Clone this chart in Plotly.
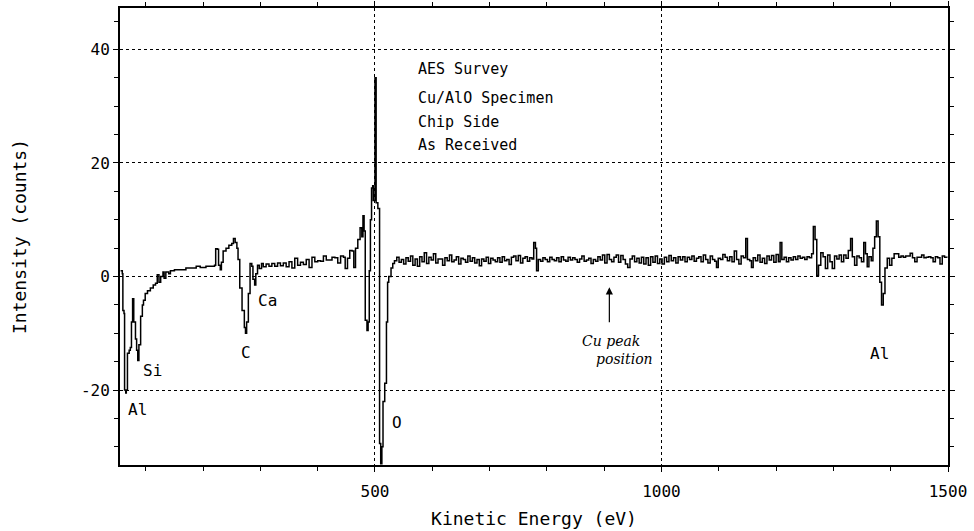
import plotly.graph_objects as go

# ---- data (kinetic energy in eV, intensity in counts) ----
ev_low = [56, 59, 60, 62, 63, 65, 66, 68, 71, 73, 75, 77, 79, 82, 84, 86, 88, 91, 94, 96,
          99, 103, 108, 113, 117, 120, 123, 126, 130, 132, 135, 140, 143, 150, 160, 170,
          180, 188, 195, 205, 215, 220, 222, 225, 227, 230, 232, 235, 240, 245, 250, 253,
          256, 259, 261, 264, 268, 272, 274, 276, 279, 282, 285, 287, 290, 292, 295, 298]
cnt_low = [1.0, 0.5, -6, -6.5, -20, -20.5, -20, -13.5, -13, -12.5, -8, -3.9, -8, -11, -13,
           -14.8, -12, -7, -5, -4.2, -3, -2.5, -2, -1.5, -1.2, 0.3, -1, 0, 0.8, -0.3, 0.8,
           0.5, 1, 1.2, 1.2, 1.5, 1.5, 1.8, 1.6, 1.8, 1.8, 2, 4.9, 4.8, 2, 1.2, 2.5, 4.5, 5,
           5.5, 5.8, 6.7, 6, 5, 3, -2, -6, -9, -10, -8, -3, 2.3, 1.8, -0.5, -1.5, 0.5, 2, 1.4]

ev_mid = [302, 305, 310, 315, 320, 325, 330, 335, 340, 345, 350, 355, 360, 365, 370, 375,
          380, 385, 390, 395, 400, 405, 410, 415, 420, 425, 430, 435, 440, 445, 448, 452,
          456, 460, 463, 466, 470, 474, 477, 479, 481, 483, 486, 488, 490, 492, 494, 496,
          497, 499, 500, 501, 502, 505, 508, 510, 512, 514, 517, 520, 522, 524, 528, 531]
cnt_mid = [2.3, 1.7, 2.2, 1.8, 2.3, 1.8, 2.4, 1.9, 2.4, 1.7, 2.6, 1.5, 3.2, 2.0, 2.5, 2.1,
           3.0, 1.6, 3.4, 2.6, 2.8, 2.7, 3.6, 2.9, 2.9, 3.4, 3.3, 2.4, 3.6, 3.4, 1.4, 3.2,
           4.6, 4.5, 1.6, 5, 6.5, 8.6, 7, 10.7, 8, -7.7, -9.5, -8, 1, 10, 15.6, 16, 13.4,
           13.4, 35, 35, 13, 12, -29.4, -33, -30, -22, -18.8, -8, -1, 0, 1.5, 2.3]

ev_high = [534, 538, 542, 546, 550, 554, 558, 562, 566, 570, 574, 578, 582, 586, 590, 594,
           598, 602, 606, 610, 614, 618, 622, 626, 630, 634, 638, 642, 646, 650, 654, 658,
           662, 666, 670, 674, 678, 682, 686, 690, 694, 698, 702, 706, 710, 714, 718, 722,
           726, 730, 734, 738, 742, 746, 750, 754, 758, 762, 766, 770, 774, 777, 780, 782,
           785, 789, 793, 797, 801, 805, 809, 813, 817, 821, 825, 829, 833, 837, 841, 845,
           849, 853, 857, 861, 865, 869, 873, 877, 881, 885, 889, 893, 897, 901, 905, 909,
           913, 917, 921, 925, 929, 933, 937, 941, 945, 949, 953, 957, 961, 965, 969, 973,
           977, 981, 985, 989, 993, 997, 1001, 1005, 1009, 1013, 1017, 1021, 1025, 1029,
           1033, 1037, 1041, 1045, 1049, 1053, 1057, 1061, 1065, 1069, 1073, 1077, 1081,
           1085, 1089, 1093, 1096, 1099, 1103, 1107, 1111, 1115, 1119, 1123, 1127, 1131,
           1135, 1139, 1143, 1147, 1150, 1154, 1157, 1160, 1164, 1168, 1172, 1176, 1180,
           1184, 1188, 1192, 1196, 1200, 1204, 1207, 1210, 1214, 1218, 1222, 1226, 1230,
           1234, 1238, 1242, 1246, 1250, 1254, 1258, 1262, 1265, 1268, 1271, 1274, 1278,
           1282, 1286, 1290, 1294, 1298, 1302, 1306, 1310, 1314, 1318, 1322, 1326, 1330,
           1333, 1337, 1341, 1345, 1349, 1353, 1356, 1359, 1362, 1366, 1369, 1372, 1375,
           1378, 1381, 1384, 1387, 1390, 1394, 1398, 1402, 1406, 1410, 1414, 1418, 1422,
           1426, 1430, 1434, 1438, 1442, 1446, 1450, 1454, 1458, 1462, 1466, 1470, 1474,
           1478, 1482, 1486, 1490, 1494, 1498]
cnt_high = [2.8, 3.4, 2.5, 3.0, 2.2, 3.3, 2.7, 3.6, 2.0, 3.1, 1.8, 3.5, 2.6, 4.2, 2.3, 3.4,
            2.9, 4.0, 2.4, 3.1, 3.1, 2.0, 3.3, 2.8, 3.8, 2.6, 2.9, 3.5, 2.2, 3.2, 3.0, 2.5,
            3.6, 2.7, 3.3, 2.4, 3.0, 1.9, 3.1, 2.7, 3.4, 2.3, 3.2, 2.9, 2.6, 3.3, 2.5, 3.5,
            2.8, 3.0, 2.1, 3.4, 3.6, 2.8, 3.7, 2.4, 3.2, 3.5, 2.7, 3.3, 3.1, 6.0, 5.0, 1.0,
            3.0, 2.7, 3.3, 3.0, 2.6, 3.4, 3.0, 2.8, 3.3, 2.6, 3.5, 2.9, 2.7, 3.4, 2.9, 3.3,
            3.0, 2.5, 3.1, 3.6, 2.7, 2.9, 3.2, 2.3, 3.0, 2.7, 3.5, 2.9, 3.8, 2.4, 3.9, 3.0,
            2.6, 3.4, 3.8, 2.5, 3.7, 3.0, 2.2, 1.6, 3.1, 3.6, 2.6, 3.2, 2.4, 3.4, 2.2, 3.3,
            2.0, 3.5, 2.5, 3.6, 2.3, 3.1, 2.2, 3.4, 2.6, 3.7, 2.8, 3.3, 2.4, 3.5,
            2.9, 3.5, 2.6, 3.4, 3.0, 3.6, 2.7, 3.2, 3.5, 2.6, 3.8, 3.0, 2.4,
            3.6, 3.0, 2.7, 1.6, 3.2, 3.0, 3.9, 3.4, 2.8, 3.5, 2.6, 4.5, 3.0,
            2.2, 3.6, 3.3, 6.7, 3.0, 2.8, 1.6, 3.3, 2.8, 3.8, 2.5, 3.2, 2.3,
            3.6, 2.9, 3.7, 2.5, 3.9, 2.6, 6.0, 3.0, 3.4, 2.6, 3.3, 2.9, 3.5,
            3.0, 3.6, 3.2, 3.4, 3.0, 3.5, 3.3, 4.0, 8.8, 6.5, 0.2, 2.0, 4.2,
            3.5, 1.4, 3.8, 2.6, 1.4, 3.6, 3.1, 3.8, 2.6, 3.8, 3.2, 4.6, 6.7,
            3.5, 2.0, 3.6, 3.3, 2.6, 6.0, 4.0, 1.7, 3.5, 2.8, 5.0, 7.0, 9.8,
            7.0, -1.0, -5.0, -3.0, 1.5, 3.2, 2.0, 3.2, 4.0, 4.0, 3.4, 3.6, 3.4,
            3.6, 3.6, 4.1, 3.3, 2.6, 3.4, 3.4, 3.8, 3.3, 3.4, 3.5, 3.3, 2.6,
            3.5, 3.3, 2.2, 3.6, 3.4, 3.3]

peak_labels = ["Al", "Si", "C", "Ca", "O", "Al"]
peak_label_ev = [85, 111, 275, 312, 538, 1381]
peak_label_cnt = [-23.5, -16.5, -13.4, -4.2, -25.7, -13.5]

info_lines = ["AES Survey", "Cu/AlO Specimen", "Chip Side", "As Received"]
info_cnt = [36.6, 31.4, 27.2, 23.2]

x_ticks = [500, 1000, 1500]
y_ticks = [-20, 0, 20, 40]

ev = ev_low + ev_mid + ev_high
cnt = cnt_low + cnt_mid + cnt_high

FONT = "DejaVu Sans Mono"

fig = go.Figure()
fig.add_trace(go.Scatter(x=ev, y=cnt, mode="lines", line=dict(color="black", width=1.5, shape="hv"),
                         showlegend=False, hoverinfo="skip"))

annotations = []
for t, xv, yv in zip(peak_labels, peak_label_ev, peak_label_cnt):
    annotations.append(dict(x=xv, y=yv, xref="x", yref="y", text=t, showarrow=False,
                            font=dict(family=FONT, size=16, color="black")))
for t, yv in zip(info_lines, info_cnt):
    annotations.append(dict(x=572, y=yv, xref="x", yref="y", text=t, showarrow=False,
                            xanchor="left", font=dict(family=FONT, size=15, color="black")))
# handwritten note
annotations.append(dict(x=909, y=-1.9, ax=909, ay=-8.3, xref="x", yref="y", axref="x", ayref="y",
                        text="", showarrow=True, arrowhead=2, arrowsize=1.2, arrowwidth=1.2,
                        arrowcolor="black"))
annotations.append(dict(x=912, y=-11.4, xref="x", yref="y", text="<i>Cu peak</i>", showarrow=False,
                        font=dict(family="DejaVu Serif", size=14, color="black")))
annotations.append(dict(x=935, y=-14.6, xref="x", yref="y", text="<i>position</i>", showarrow=False,
                        font=dict(family="DejaVu Serif", size=14, color="black")))

fig.update_layout(
    width=974, height=531,
    margin=dict(l=120, r=26, t=8, b=66),
    paper_bgcolor="white", plot_bgcolor="white",
    font=dict(family=FONT, color="black"),
    annotations=annotations,
    xaxis=dict(range=[55, 1500], tickvals=x_ticks, ticktext=[str(v) for v in x_ticks],
               automargin=False,
               showgrid=True, gridcolor="black", griddash="dot", gridwidth=1,
               zeroline=False, showline=True, linecolor="black", linewidth=2, mirror="allticks",
               ticks="outside", ticklen=5, tickcolor="black", ticklabelstandoff=6,
               minor=dict(dtick=100, tick0=0, ticks="outside", ticklen=4, tickcolor="black", showgrid=False),
               tickfont=dict(family=FONT, size=16, color="black"),
               title=dict(text="Kinetic Energy (eV)", font=dict(family=FONT, size=18, color="black"), standoff=12)),
    yaxis=dict(range=[-33.2, 47.3], tickvals=y_ticks, ticktext=[str(v) for v in y_ticks],
               automargin=False,
               showgrid=True, gridcolor="black", griddash="dot", gridwidth=1,
               zeroline=False, showline=True, linecolor="black", linewidth=2, mirror="allticks",
               ticks="outside", ticklen=5, tickcolor="black",
               minor=dict(dtick=5, tick0=0, ticks="outside", ticklen=4, tickcolor="black", showgrid=False),
               tickfont=dict(family=FONT, size=16, color="black"),
               title=dict(text="Intensity (counts)", font=dict(family=FONT, size=18, color="black"), standoff=50)),
)

fig.write_html("out.html")
